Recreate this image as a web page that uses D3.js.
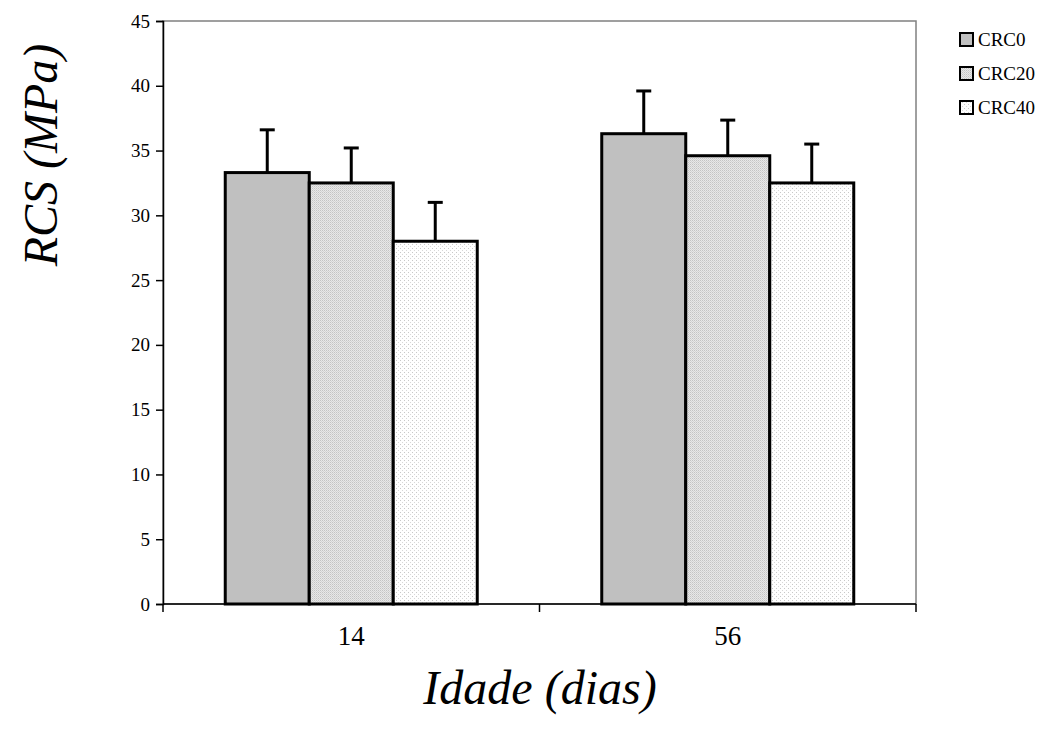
<!DOCTYPE html>
<html><head><meta charset="utf-8">
<script src="https://cdn.jsdelivr.net/npm/d3@7"></script>
<style>body{margin:0;background:#fff}</style>
</head><body>
<svg id="c" width="1064" height="733"></svg>
<script>
const categories = ["14", "56"];
const seriesNames = ["CRC0", "CRC20", "CRC40"];
const crc0 = [33.3, 36.3];
const crc20 = [32.5, 34.6];
const crc40 = [28.0, 32.5];
const err0 = [3.3, 3.3];
const err20 = [2.7, 2.75];
const err40 = [3.0, 3.0];
const yTicks = [0,5,10,15,20,25,30,35,40,45];

const FF = "Liberation Serif";
const svg = d3.select("#c");
const L=163,R=916,T=21,B=604;
const defs = svg.append("defs");
const p1 = defs.append("pattern").attr("id","p20").attr("width",2).attr("height",2).attr("patternUnits","userSpaceOnUse");
p1.append("rect").attr("width",2).attr("height",2).attr("fill","#e8e8e8");
p1.append("rect").attr("width",1).attr("height",1).attr("fill","#c4c4c4");
p1.append("rect").attr("x",1).attr("y",1).attr("width",1).attr("height",1).attr("fill","#d4d4d4");
const p2 = defs.append("pattern").attr("id","p40").attr("width",4).attr("height",4).attr("patternUnits","userSpaceOnUse");
p2.append("rect").attr("width",4).attr("height",4).attr("fill","#ffffff");
p2.append("rect").attr("width",1).attr("height",1).attr("fill","#c8c8c8");
p2.append("rect").attr("x",2).attr("y",2).attr("width",1).attr("height",1).attr("fill","#d8d8d8");
const fills = ["#c0c0c0","url(#p20)","url(#p40)"];

const x0 = d3.scaleBand().domain(categories).range([L,R]).paddingInner(0).paddingOuter(0);
const groupW = 252;
const x1b = d3.scaleBand().domain(seriesNames).range([(x0.bandwidth()-groupW)/2,(x0.bandwidth()+groupW)/2]);
const y = d3.scaleLinear().domain([0,45]).range([B,T]);

svg.append("rect").attr("x",L).attr("y",T).attr("width",R-L).attr("height",B-T).attr("fill","none").attr("stroke","#808080").attr("stroke-width",1.5);

const vals = [crc0,crc20,crc40];
const errs = [err0,err20,err40];
seriesNames.forEach((s,si)=>{
  categories.forEach((c,ci)=>{
    const bx = x0(c)+x1b(s), bw = x1b.bandwidth();
    const v = vals[si][ci], e = errs[si][ci];
    const cx = bx+bw/2;
    svg.append("line").attr("x1",cx).attr("x2",cx).attr("y1",y(v)).attr("y2",y(v+e)).attr("stroke","#000").attr("stroke-width",3);
    svg.append("line").attr("x1",cx-7.5).attr("x2",cx+7.5).attr("y1",y(v+e)).attr("y2",y(v+e)).attr("stroke","#000").attr("stroke-width",3);
    svg.append("rect").attr("x",bx).attr("y",y(v)).attr("width",bw).attr("height",y(0)-y(v))
      .attr("fill",fills[si]).attr("stroke","#000").attr("stroke-width",3);
  });
});

const ya = svg.append("g").attr("transform",`translate(${L},0)`).call(d3.axisLeft(y).tickValues(yTicks).tickSize(7).tickPadding(6));
ya.attr("font-family",FF);
ya.select(".domain").attr("stroke","#000").attr("stroke-width",1.5);
ya.selectAll(".tick line").attr("stroke","#000").attr("stroke-width",1.5);
ya.selectAll("text").attr("font-family",FF).attr("font-size",19).attr("fill","#000");
svg.append("line").attr("x1",L).attr("x2",R).attr("y1",B).attr("y2",B).attr("stroke","#000").attr("stroke-width",1.5);
[L,(L+R)/2,R].forEach(t=>svg.append("line").attr("x1",t).attr("x2",t).attr("y1",B).attr("y2",B+8).attr("stroke","#000").attr("stroke-width",1.5));
categories.forEach(c=>{
  svg.append("text").attr("x",x0(c)+x0.bandwidth()/2).attr("y",645).attr("text-anchor","middle")
    .attr("font-family",FF).attr("font-size",27).text(c);
});
svg.append("text").attr("x",540).attr("y",704).attr("text-anchor","middle").attr("font-family",FF)
  .attr("font-style","italic").attr("font-size",48).text("Idade (dias)");
svg.append("text").attr("transform","translate(57,155) rotate(-90)").attr("text-anchor","middle").attr("font-family",FF)
  .attr("font-style","italic").attr("font-size",48).text("RCS (MPa)");

seriesNames.forEach((s,i)=>{
  const ly = 33 + i*34;
  svg.append("rect").attr("x",960).attr("y",ly).attr("width",13).attr("height",13).attr("fill",fills[i]).attr("stroke","#000").attr("stroke-width",2);
  svg.append("text").attr("x",978).attr("y",ly+13).attr("font-family",FF).attr("font-size",19).text(s);
});
</script>
</body></html>
